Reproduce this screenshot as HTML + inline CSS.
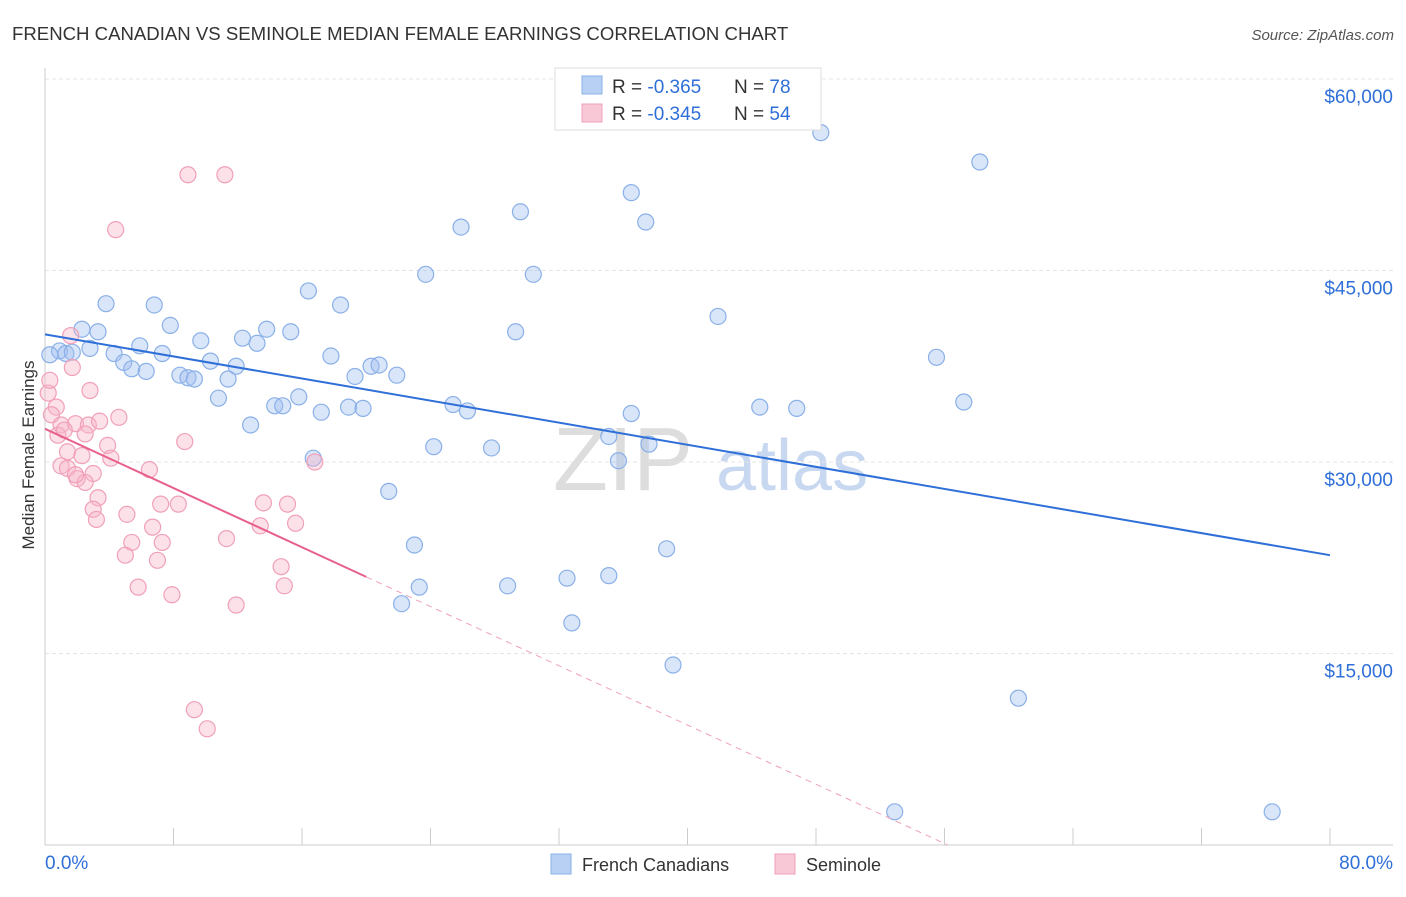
<!DOCTYPE html>
<html><head><meta charset="utf-8">
<style>
body{margin:0;background:#fff;font-family:"Liberation Sans",sans-serif;}
svg text{font-family:"Liberation Sans",sans-serif;}
</style></head>
<body>
<svg id="chart" width="1406" height="892">
<text x="12" y="40" font-size="18.6" fill="#333">FRENCH CANADIAN VS SEMINOLE MEDIAN FEMALE EARNINGS CORRELATION CHART</text>
<text x="1394" y="40" font-size="15" fill="#555" text-anchor="end" font-style="italic">Source: ZipAtlas.com</text>
<text x="34" y="455" font-size="17" fill="#333" text-anchor="middle" transform="rotate(-90 34 455)">Median Female Earnings</text>
<text x="553" y="490" font-size="90" fill="#ddd" font-family="Liberation Serif">ZIP</text>
<text x="716" y="490" font-size="72" fill="#c8d8f0">atlas</text>
<g id="grid"></g><g id="pts"></g><g id="lines"></g>
<g>
<rect x="555" y="68" width="266" height="62" fill="#fff" stroke="#ddd"/>
<rect x="582" y="76" width="20" height="18" fill="#b8d0f4" stroke="#8ab0e8"/>
<rect x="582" y="104" width="20" height="18" fill="#f8c8d6" stroke="#f0a0b8"/>
<text x="612" y="93" font-size="19" fill="#333">R = <tspan fill="#2f6fd8">-0.365</tspan><tspan x="734">N = </tspan><tspan fill="#2f6fd8">78</tspan></text>
<text x="612" y="120" font-size="19" fill="#333">R = <tspan fill="#2f6fd8">-0.345</tspan><tspan x="734">N = </tspan><tspan fill="#2f6fd8">54</tspan></text>
</g>
<g>
<rect x="551" y="854" width="20" height="20" fill="#b8d0f4" stroke="#8ab0e8"/>
<text x="582" y="871" font-size="18" fill="#333">French Canadians</text>
<rect x="775" y="854" width="20" height="20" fill="#f8c8d6" stroke="#f0a0b8"/>
<text x="806" y="871" font-size="18" fill="#333">Seminole</text>
</g>
</svg>
<script>
const yTicks=[15000,30000,45000,60000];
const yTickLabels=["$15,000","$30,000","$45,000","$60,000"];
const blueX=[48.3,58.2,36.5,37.4,29.6,25.9,23.7,30.4,16.4,18.4,6.8,3.8,2.3,3.3,7.8,9.7,12.3,13.2,13.8,15.3,29.3,41.9,0.9,1.3,2.8,4.3,5.9,7.3,10.3,11.9,4.9,5.4,6.3,8.4,8.9,9.3,11.4,17.8,19.3,20.3,20.8,21.9,55.5,10.8,12.8,14.3,14.8,15.8,17.2,18.9,19.8,25.4,26.3,36.5,44.5,46.8,57.2,35.1,37.6,24.2,27.8,16.7,35.7,21.4,23.0,38.7,32.5,35.1,28.8,23.3,22.2,32.8,39.1,60.6,52.9,76.4,0.3,1.7];
const blueY=[55800,53500,51100,48800,49600,48400,44700,44700,43400,42300,42300,42400,40400,40200,40700,39500,39700,39300,40400,40200,40200,41400,38700,38500,38900,38500,39100,38500,37900,37500,37800,37300,37100,36800,36600,36500,36500,38300,36700,37500,37600,36800,38200,35000,32900,34400,34400,35100,33900,34300,34200,34500,34000,33800,34300,34200,34700,32000,31400,31200,31100,30300,30100,27700,23500,23200,20900,21100,20300,20200,18900,17400,14100,11500,2600,2600,38400,38600];
const pinkX=[8.9,11.2,4.4,1.6,1.7,0.2,0.7,0.4,2.8,4.6,1.9,1.0,2.7,0.8,2.5,8.7,3.9,1.4,4.1,2.3,16.8,1.0,1.4,3.0,2.0,2.5,3.3,13.6,15.1,7.2,8.3,3.0,5.1,3.2,6.7,13.4,15.6,11.3,5.4,7.3,5.0,7.0,14.7,5.8,14.9,7.9,11.9,9.3,10.1,0.3,1.2,3.4,1.9,6.5];
const pinkY=[52500,52500,48200,39900,37400,35400,34300,33700,35600,33500,33000,32900,32900,32100,32200,31600,31300,30800,30300,30500,30000,29700,29500,29100,28700,28400,27200,26800,26700,26700,26700,26300,25900,25500,24900,25000,25200,24000,23700,23700,22700,22300,21800,20200,20300,19600,18800,10600,9100,36400,32500,33200,29000,29400];
const blueFit=[[0,40000],[80,22700]];
const pinkFit=[[0,32600],[20,21000]];
const pinkExt=[[20,21000],[56.2,0]];
const X=v=>45+v/80*1285, Y=v=>845-v/15000*191.5;
const ns="http://www.w3.org/2000/svg";
function mk(t,a,p){const e=document.createElementNS(ns,t);for(const k in a)e.setAttribute(k,a[k]);p.appendChild(e);return e;}
const g=document.getElementById('grid');
yTicks.forEach((t,i)=>{
 const l=mk('line',{x1:45,x2:1393,y1:Y(t),y2:Y(t),stroke:'#e4e4e4','stroke-dasharray':'4,3'},g);
 
 
 const tx=mk('text',{x:1393,y:Y(t)+24,'font-size':19,fill:'#2f6fd8','text-anchor':'end'},g);
 tx.textContent=yTickLabels[i];
 
 
});
mk('line',{x1:45,x2:45,y1:68,y2:845,stroke:'#ccc'},g);
mk('line',{x1:45,x2:1393,y1:845,y2:845,stroke:'#ccc'},g);
for(let i=0;i<=10;i++){const t=mk('line',{x1:X(i*8),x2:X(i*8),y1:828,y2:845,stroke:'#ccc'},g);
 
 }
const x0=mk('text',{x:45,y:869,'font-size':19,fill:'#2f6fd8'},g);x0.textContent='0.0%';


const x1=mk('text',{x:1393,y:869,'font-size':19,fill:'#2f6fd8','text-anchor':'end'},g);x1.textContent='80.0%';


const p=document.getElementById('pts');
blueX.forEach((v,i)=>{const c=mk('circle',{cx:X(v),cy:Y(blueY[i]),r:8,fill:'rgba(160,190,240,0.4)',stroke:'#8ab0e8','stroke-width':1.2},p);
 
 });
pinkX.forEach((v,i)=>{const c=mk('circle',{cx:X(v),cy:Y(pinkY[i]),r:8,fill:'rgba(248,180,200,0.4)',stroke:'#f0a0b8','stroke-width':1.2},p);
 
 });
const L=document.getElementById('lines');
function ln(d,st,dash,w,name){const e=mk('line',{x1:X(d[0][0]),y1:Y(d[0][1]),x2:X(d[1][0]),y2:Y(d[1][1]),stroke:st,'stroke-width':w},L);if(dash)e.setAttribute('stroke-dasharray',dash);
 
 }
ln(blueFit,'#2f6fd8',null,2,'french-canadian-trendline');
ln(pinkFit,'#e8608c',null,2,'seminole-trendline');
ln(pinkExt,'#f0a0b8','6,5',1,'seminole-trendline-extension');
</script>
</body></html>
